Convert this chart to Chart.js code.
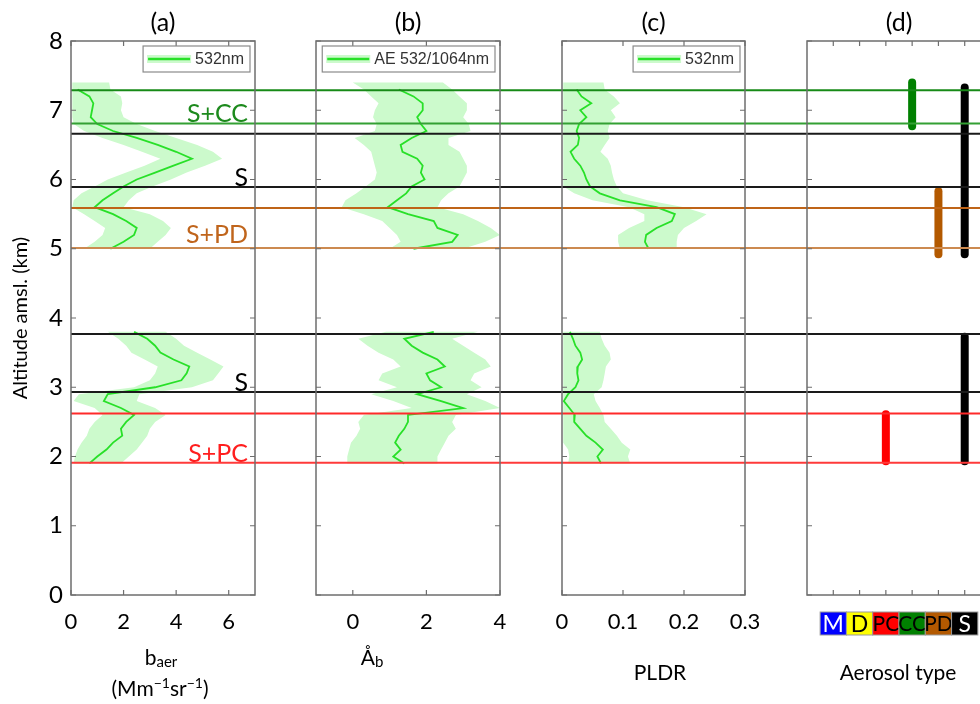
<!DOCTYPE html>
<html>
<head>
<meta charset="utf-8">
<script src="https://cdn.jsdelivr.net/npm/chart.js@4.4.1/dist/chart.umd.min.js"></script>
<style>
  html, body { margin: 0; padding: 0; background: #fff; overflow: hidden; }
  #fig { position: relative; width: 980px; height: 704px; overflow: hidden; }
  #fig canvas { position: absolute; left: 0; top: 0; }
</style>
</head>
<body>
<div id="fig"></div>
<script>
// Altitude grids (km amsl) for the two aerosol layers
const altUpper = [7.4, 7.3, 7.2, 7.1, 7.0, 6.9, 6.8, 6.7, 6.6, 6.5, 6.4, 6.3, 6.2, 6.1, 6.0, 5.9, 5.8, 5.7, 5.6, 5.5, 5.4, 5.3, 5.2, 5.1, 5.0];
const altLower = [3.8, 3.7, 3.6, 3.5, 3.4, 3.3, 3.2, 3.1, 3.0, 2.9, 2.8, 2.7, 2.6, 2.5, 2.4, 2.3, 2.2, 2.1, 2.0, 1.9];

// (a) backscatter coefficient 532 nm
const baerUpperMean = [null, 0.25, 0.7, 0.85, 0.8, 0.75, 1.0, 1.6, 2.5, 3.3, 4.0, 4.6, 3.9, 3.2, 2.5, 2.0, 1.6, 1.2, 0.9, 1.6, 2.1, 2.5, 2.4, 2.0, 1.5];
const baerUpperHi = [1.45, 1.5, 1.9, 1.95, 1.9, 2.0, 2.5, 3.2, 4.0, 4.8, 5.4, 5.75, 5.1, 4.4, 3.8, 3.1, 2.5, 2.2, 2.0, 3.0, 3.5, 3.8, 3.6, 3.3, 3.0];
const baerUpperLo = [0.05, 0.05, 0.05, 0.05, 0.05, 0.05, 0.1, 0.5, 1.2, 2.0, 2.7, 3.4, 2.8, 2.1, 1.4, 0.9, 0.4, 0.1, 0.05, 0.5, 0.9, 1.3, 1.2, 0.9, 0.5];
const baerLowerMean = [2.4, 2.9, 3.2, 3.4, 3.9, 4.5, 4.4, 4.2, 3.2, 1.4, 1.25, 1.9, 2.4, 2.1, 1.9, 1.95, 1.6, 1.35, 1.0, 0.7];
const baerLowerHi = [3.6, 4.0, 4.3, 4.8, 5.3, 5.8, 5.6, 5.4, 4.6, 2.6, 2.5, 3.2, 3.6, 3.2, 3.0, 2.9, 2.7, 2.5, 2.2, 1.9];
const baerLowerLo = [1.4, 1.8, 2.1, 2.3, 2.8, 3.3, 3.2, 3.0, 2.4, 0.3, 0.1, 0.9, 1.2, 0.9, 0.7, 0.6, 0.4, 0.25, 0.15, 0.1];

// (b) backscatter Angstrom exponent 532/1064 nm
const aeUpperMean = [null, 1.25, 1.65, 1.9, 1.9, 1.75, 1.85, 2.0, 1.6, 1.3, 1.35, 1.75, 1.9, 1.85, 1.95, 1.6, 1.45, 1.2, 0.95, 1.5, 2.2, 2.3, 2.85, 2.7, 1.65];
const aeUpperHi = [2.45, 2.7, 2.9, 3.1, 3.1, 3.0, 3.15, 3.2, 2.6, 2.6, 2.9, 3.0, 3.1, 3.1, 3.0, 2.9, 2.6, 2.4, 2.3, 3.0, 3.4, 3.75, 4.0, 3.6, 3.0];
const aeUpperLo = [0.0, 0.3, 0.5, 0.7, 0.6, 0.55, 0.65, 0.6, 0.05, 0.3, 0.5, 0.55, 0.6, 0.65, 0.6, 0.35, 0.1, -0.2, -0.3, 0.3, 0.8, 1.0, 1.2, 1.3, 1.0];
const aeLowerMean = [2.2, 1.4, 1.6, 1.9, 2.3, 2.5, 2.0, 2.1, 2.4, 1.75, 2.4, 3.0, 1.5, 1.5, 1.4, 1.25, 1.15, 1.3, 1.1, 1.4];
const aeLowerHi = [3.4, 2.7, 3.0, 3.3, 3.6, 3.75, 3.3, 3.2, 3.5, 3.1, 3.6, 4.0, 2.8, 2.7, 2.8, 2.6, 2.5, 2.4, 2.3, 2.3];
const aeLowerLo = [0.9, 0.15, 0.4, 0.7, 1.1, 1.3, 0.8, 0.7, 1.2, 0.5, 1.1, 1.6, 0.3, 0.15, 0.2, 0.1, -0.05, -0.1, -0.15, -0.15];

// (c) particle linear depolarization ratio 532 nm
const pldrUpperMean = [null, 0.024, 0.032, 0.048, 0.03, 0.04, 0.028, 0.024, 0.028, 0.026, 0.014, 0.02, 0.03, 0.036, 0.04, 0.046, 0.062, 0.095, 0.155, 0.185, 0.18, 0.155, 0.138, 0.136, 0.142];
const pldrUpperHi = [0.068, 0.07, 0.085, 0.095, 0.08, 0.088, 0.078, 0.075, 0.078, 0.07, 0.063, 0.075, 0.08, 0.082, 0.085, 0.09, 0.1, 0.14, 0.2, 0.237, 0.22, 0.2, 0.19, 0.188, 0.188];
const pldrUpperLo = [0.002, 0.002, 0.002, 0.002, 0.002, 0.002, 0.002, 0.002, 0.002, 0.002, 0.002, 0.002, 0.002, 0.002, 0.002, 0.002, 0.02, 0.05, 0.11, 0.135, 0.135, 0.11, 0.092, 0.092, 0.095];
const pldrLowerMean = [0.013, 0.018, 0.022, 0.03, 0.033, 0.026, 0.025, 0.027, 0.022, 0.01, 0.003, 0.012, 0.021, 0.02, 0.03, 0.04, 0.055, 0.067, 0.058, 0.064];
const pldrLowerHi = [0.062, 0.065, 0.07, 0.078, 0.08, 0.072, 0.07, 0.068, 0.065, 0.052, 0.055, 0.062, 0.068, 0.07, 0.08, 0.09, 0.098, 0.112, 0.108, 0.112];
const pldrLowerLo = [0.002, 0.002, 0.002, 0.002, 0.002, 0.002, 0.002, 0.002, 0.002, 0.002, 0.002, 0.002, 0.002, 0.002, 0.002, 0.002, 0.002, 0.01, 0.012, 0.01];

// (d) aerosol type classification: category index and altitude span
const typeNames = ['M', 'D', 'PC', 'CC', 'PD', 'S'];
const typeColors = ['#0000ff', '#ffff00', '#ff0000', '#008000', '#b35900', '#000000'];
const typeTextColors = ['#ffffff', '#000000', '#000000', '#000000', '#000000', '#ffffff'];
const classType = [3, 4, 5, 6, 6];
const classTop = [2.61, 7.40, 5.83, 7.33, 3.73];
const classBottom = [1.93, 6.77, 4.92, 4.92, 1.93];

// layer boundaries
const layerNames = ['S+CC', 'S', 'S+PD', 'S', 'S+PC'];
const layerTop = [7.29, 6.66, 5.59, 3.77, 2.62];
const layerBottom = [6.81, 5.89, 5.01, 2.93, 1.91];
const layerTopColor = ['#178a17', '#1a1a1a', '#bf6418', '#1a1a1a', '#ff2a2a'];
const layerBottomColor = ['#33a033', '#1a1a1a', '#cc8a50', '#1a1a1a', '#ff3a3a'];
const layerTextColor = ['#1d8a1d', '#000000', '#c0651c', '#000000', '#ff1e1e'];

const altTicks = [0, 1, 2, 3, 4, 5, 6, 7, 8];

const LINE = '#28e028';
const BAND = '#ccfacc';
const FRAME = '#6e6e6e';
const FONT = 'Lato, "Open Sans", sans-serif';
Chart.defaults.font.family = FONT;
Chart.defaults.color = '#000';

function profile(alts, vals) {
  const pts = [];
  alts.forEach((a, i) => { if (vals[i] !== null) pts.push({ x: vals[i], y: a }); });
  return pts;
}
function band(alts, lo, hi) {
  const pts = alts.map((a, i) => ({ x: lo[i], y: a }));
  for (let i = alts.length - 1; i >= 0; i--) pts.push({ x: hi[i], y: alts[i] });
  return pts;
}
function profileSets(upMean, upLo, upHi, lowMean, lowLo, lowHi) {
  const lineStyle = { showLine: true, borderColor: LINE, borderWidth: 1.8, pointRadius: 0, order: 0, fill: false };
  const bandStyle = { showLine: true, borderWidth: 0, pointRadius: 0, backgroundColor: BAND, fill: 'shape', order: 1 };
  return [
    Object.assign({ data: profile(altUpper, upMean) }, lineStyle),
    Object.assign({ data: profile(altLower, lowMean) }, lineStyle),
    Object.assign({ data: band(altUpper, upLo, upHi) }, bandStyle),
    Object.assign({ data: band(altLower, lowLo, lowHi) }, bandStyle)
  ];
}

// draws text made of normal / subscript / superscript parts, centred on cx
function richText(ctx, parts, cx, cy, size) {
  const fonts = { n: size, sub: Math.round(size * 0.72), sup: Math.round(size * 0.66) };
  const shift = { n: 0, sub: 2, sup: -size * 0.38 };
  let total = 0;
  for (const [t, k] of parts) { ctx.font = fonts[k] + 'px ' + FONT; total += ctx.measureText(t).width; }
  let x = cx - total / 2;
  ctx.textAlign = 'left';
  ctx.textBaseline = 'middle';
  for (const [t, k] of parts) {
    ctx.font = fonts[k] + 'px ' + FONT;
    ctx.fillText(t, x, cy + shift[k] + (k === 'n' ? 0 : size * 0.12));
    x += ctx.measureText(t).width;
  }
}

const decor = {
  id: 'decor',
  afterDatasetsDraw(chart, args, o) {
    const ctx = chart.ctx, a = chart.chartArea;
    const xs = chart.scales.x, ys = chart.scales.y;
    ctx.save();

    // layer boundary lines, running on to the next panel
    ctx.lineWidth = 2;
    for (let i = 0; i < layerNames.length; i++) {
      [[layerTop[i], layerTopColor[i]], [layerBottom[i], layerBottomColor[i]]].forEach(([alt, col]) => {
        const y = ys.getPixelForValue(alt);
        ctx.strokeStyle = col;
        ctx.beginPath();
        ctx.moveTo(a.left, y);
        ctx.lineTo(a.left + o.span, y);
        ctx.stroke();
      });
    }

    // box and inward ticks
    ctx.strokeStyle = FRAME;
    ctx.lineWidth = 1.5;
    ctx.strokeRect(a.left, a.top, a.right - a.left, a.bottom - a.top);
    ctx.lineWidth = 1.2;
    ctx.beginPath();
    for (const v of o.xTicks) {
      const x = xs.getPixelForValue(v);
      ctx.moveTo(x, a.bottom); ctx.lineTo(x, a.bottom - 5);
      ctx.moveTo(x, a.top); ctx.lineTo(x, a.top + 5);
    }
    for (const v of altTicks) {
      const y = ys.getPixelForValue(v);
      ctx.moveTo(a.left, y); ctx.lineTo(a.left + 5, y);
      ctx.moveTo(a.right, y); ctx.lineTo(a.right - 5, y);
    }
    ctx.stroke();

    // legend box
    if (o.legend) {
      ctx.font = '16px "Liberation Sans", Arial, sans-serif';
      const tw = ctx.measureText(o.legend).width;
      const w = 4 + 44 + 4 + tw + 6, h = 26;
      const x0 = a.right - 5 - w, y0 = a.top + 5;
      ctx.fillStyle = '#fff';
      ctx.fillRect(x0, y0, w, h);
      ctx.strokeStyle = '#8a8a8a';
      ctx.lineWidth = 1.2;
      ctx.strokeRect(x0, y0, w, h);
      ctx.fillStyle = BAND;
      ctx.fillRect(x0 + 4, y0 + h / 2 - 4, 44, 8);
      ctx.strokeStyle = LINE;
      ctx.lineWidth = 2.4;
      ctx.beginPath();
      ctx.moveTo(x0 + 5, y0 + h / 2);
      ctx.lineTo(x0 + 47, y0 + h / 2);
      ctx.stroke();
      ctx.fillStyle = '#333';
      ctx.textAlign = 'left';
      ctx.textBaseline = 'middle';
      ctx.fillText(o.legend, x0 + 52, y0 + h / 2 + 1);
    }

    // layer names (panel a)
    if (o.layerLabels) {
      ctx.font = '25px ' + FONT;
      ctx.textAlign = 'right';
      ctx.textBaseline = 'alphabetic';
      layerNames.forEach((name, i) => {
        ctx.fillStyle = layerTextColor[i];
        const y = ys.getPixelForValue(layerBottom[i]) - (name === 'S+PD' ? 5 : 1);
        ctx.fillText(name, a.right - 7, y);
      });
    }

    // aerosol type colour key (panel d)
    if (o.typeKey) {
      const cw = xs.getPixelForValue(1) - xs.getPixelForValue(0);
      const top = a.bottom + 17, h = 23;
      typeNames.forEach((name, i) => {
        const cx = xs.getPixelForValue(i + 1);
        ctx.fillStyle = typeColors[i];
        ctx.fillRect(cx - cw / 2, top, cw, h);
        ctx.strokeStyle = '#9a9a9a';
        ctx.lineWidth = 1;
        ctx.strokeRect(cx - cw / 2, top, cw, h);
        ctx.fillStyle = typeTextColors[i];
        ctx.font = (name.length > 1 ? 21 : 23) + 'px ' + FONT;
        ctx.textAlign = 'center';
        ctx.textBaseline = 'middle';
        ctx.fillText(name, cx, top + h / 2 + 1, cw + 2);
      });
    }

    // panel letter and x-axis title
    ctx.fillStyle = '#000';
    ctx.font = '25px ' + FONT;
    ctx.textAlign = 'center';
    ctx.textBaseline = 'middle';
    ctx.fillText(o.title, (a.left + a.right) / 2, 23);
    for (const line of o.xTitle) richText(ctx, line.parts, line.x, line.y, 21);

    ctx.restore();
  }
};

const panels = [
  {
    title: '(a)', left: 71, right: 255, span: 245, xMin: 0, xMax: 7, xTicks: [0, 2, 4, 6],
    legend: '532nm', layerLabels: true, showAlt: true,
    xTitle: [
      { x: 161, y: 658, parts: [['b', 'n'], ['aer', 'sub']] },
      { x: 160, y: 689, parts: [['(Mm', 'n'], ['\u22121', 'sup'], ['sr', 'n'], ['\u22121', 'sup'], [')', 'n']] }
    ],
    datasets: profileSets(baerUpperMean, baerUpperLo, baerUpperHi, baerLowerMean, baerLowerLo, baerLowerHi)
  },
  {
    title: '(b)', left: 316, right: 500, span: 246, xMin: -1, xMax: 4, xTicks: [0, 2, 4],
    legend: 'AE 532/1064nm',
    xTitle: [{ x: 372, y: 658, parts: [['\u00c5', 'n'], ['b', 'sub']] }],
    datasets: profileSets(aeUpperMean, aeUpperLo, aeUpperHi, aeLowerMean, aeLowerLo, aeLowerHi)
  },
  {
    title: '(c)', left: 562, right: 745, span: 245, xMin: 0, xMax: 0.3, xTicks: [0, 0.1, 0.2, 0.3],
    legend: '532nm',
    xTitle: [{ x: 660, y: 673, parts: [['PLDR', 'n']] }],
    datasets: profileSets(pldrUpperMean, pldrUpperLo, pldrUpperHi, pldrLowerMean, pldrLowerLo, pldrLowerHi)
  },
  {
    title: '(d)', left: 807, right: 991, span: 200, xMin: 0, xMax: 7, xTicks: [1, 2, 3, 4, 5, 6],
    typeKey: true, hideTickLabels: true,
    xTitle: [{ x: 898, y: 673, parts: [['Aerosol type', 'n']] }],
    datasets: classType.map((t, i) => ({
      showLine: true,
      data: [{ x: t, y: classBottom[i] }, { x: t, y: classTop[i] }],
      borderColor: typeColors[t - 1],
      borderWidth: 8,
      borderCapStyle: 'round',
      pointRadius: 0,
      fill: false
    }))
  }
];

const fig = document.getElementById('fig');
for (const p of panels) {
  const canvas = document.createElement('canvas');
  canvas.width = 1000;
  canvas.height = 704;
  fig.appendChild(canvas);

  new Chart(canvas, {
    type: 'scatter',
    data: { datasets: p.datasets },
    plugins: [decor],
    options: {
      responsive: false,
      animation: false,
      events: [],
      layout: { padding: { left: p.showAlt ? 0 : p.left, right: 1000 - p.right, top: 41, bottom: 0 } },
      plugins: {
        legend: { display: false },
        tooltip: { enabled: false },
        decor: { title: p.title, span: p.span, xTicks: p.xTicks, legend: p.legend, layerLabels: p.layerLabels, typeKey: p.typeKey, xTitle: p.xTitle }
      },
      scales: {
        x: {
          type: 'linear',
          min: p.xMin,
          max: p.xMax,
          afterBuildTicks: s => { s.ticks = p.xTicks.map(v => ({ value: v })); },
          afterFit: s => { s.height = 704 - 595; },
          grid: { display: false, drawTicks: false },
          border: { display: false },
          ticks: {
            font: { size: 22 },
            color: '#000',
            padding: 14,
            maxRotation: 0,
            autoSkip: false,
            callback: v => p.hideTickLabels ? '' : String(v)
          }
        },
        y: {
          type: 'linear',
          display: !!p.showAlt,
          min: 0,
          max: 8,
          afterFit: s => { s.width = p.showAlt ? 71 : 0; },
          grid: { display: false, drawTicks: false },
          border: { display: false },
          ticks: { stepSize: 1, font: { size: 24 }, color: '#000', padding: 8 },
          title: { display: true, text: 'Altitude amsl. (km)', font: { size: 20 }, color: '#000', padding: { top: 9, bottom: 0 } }
        }
      }
    }
  });
}
</script>
</body>
</html>
